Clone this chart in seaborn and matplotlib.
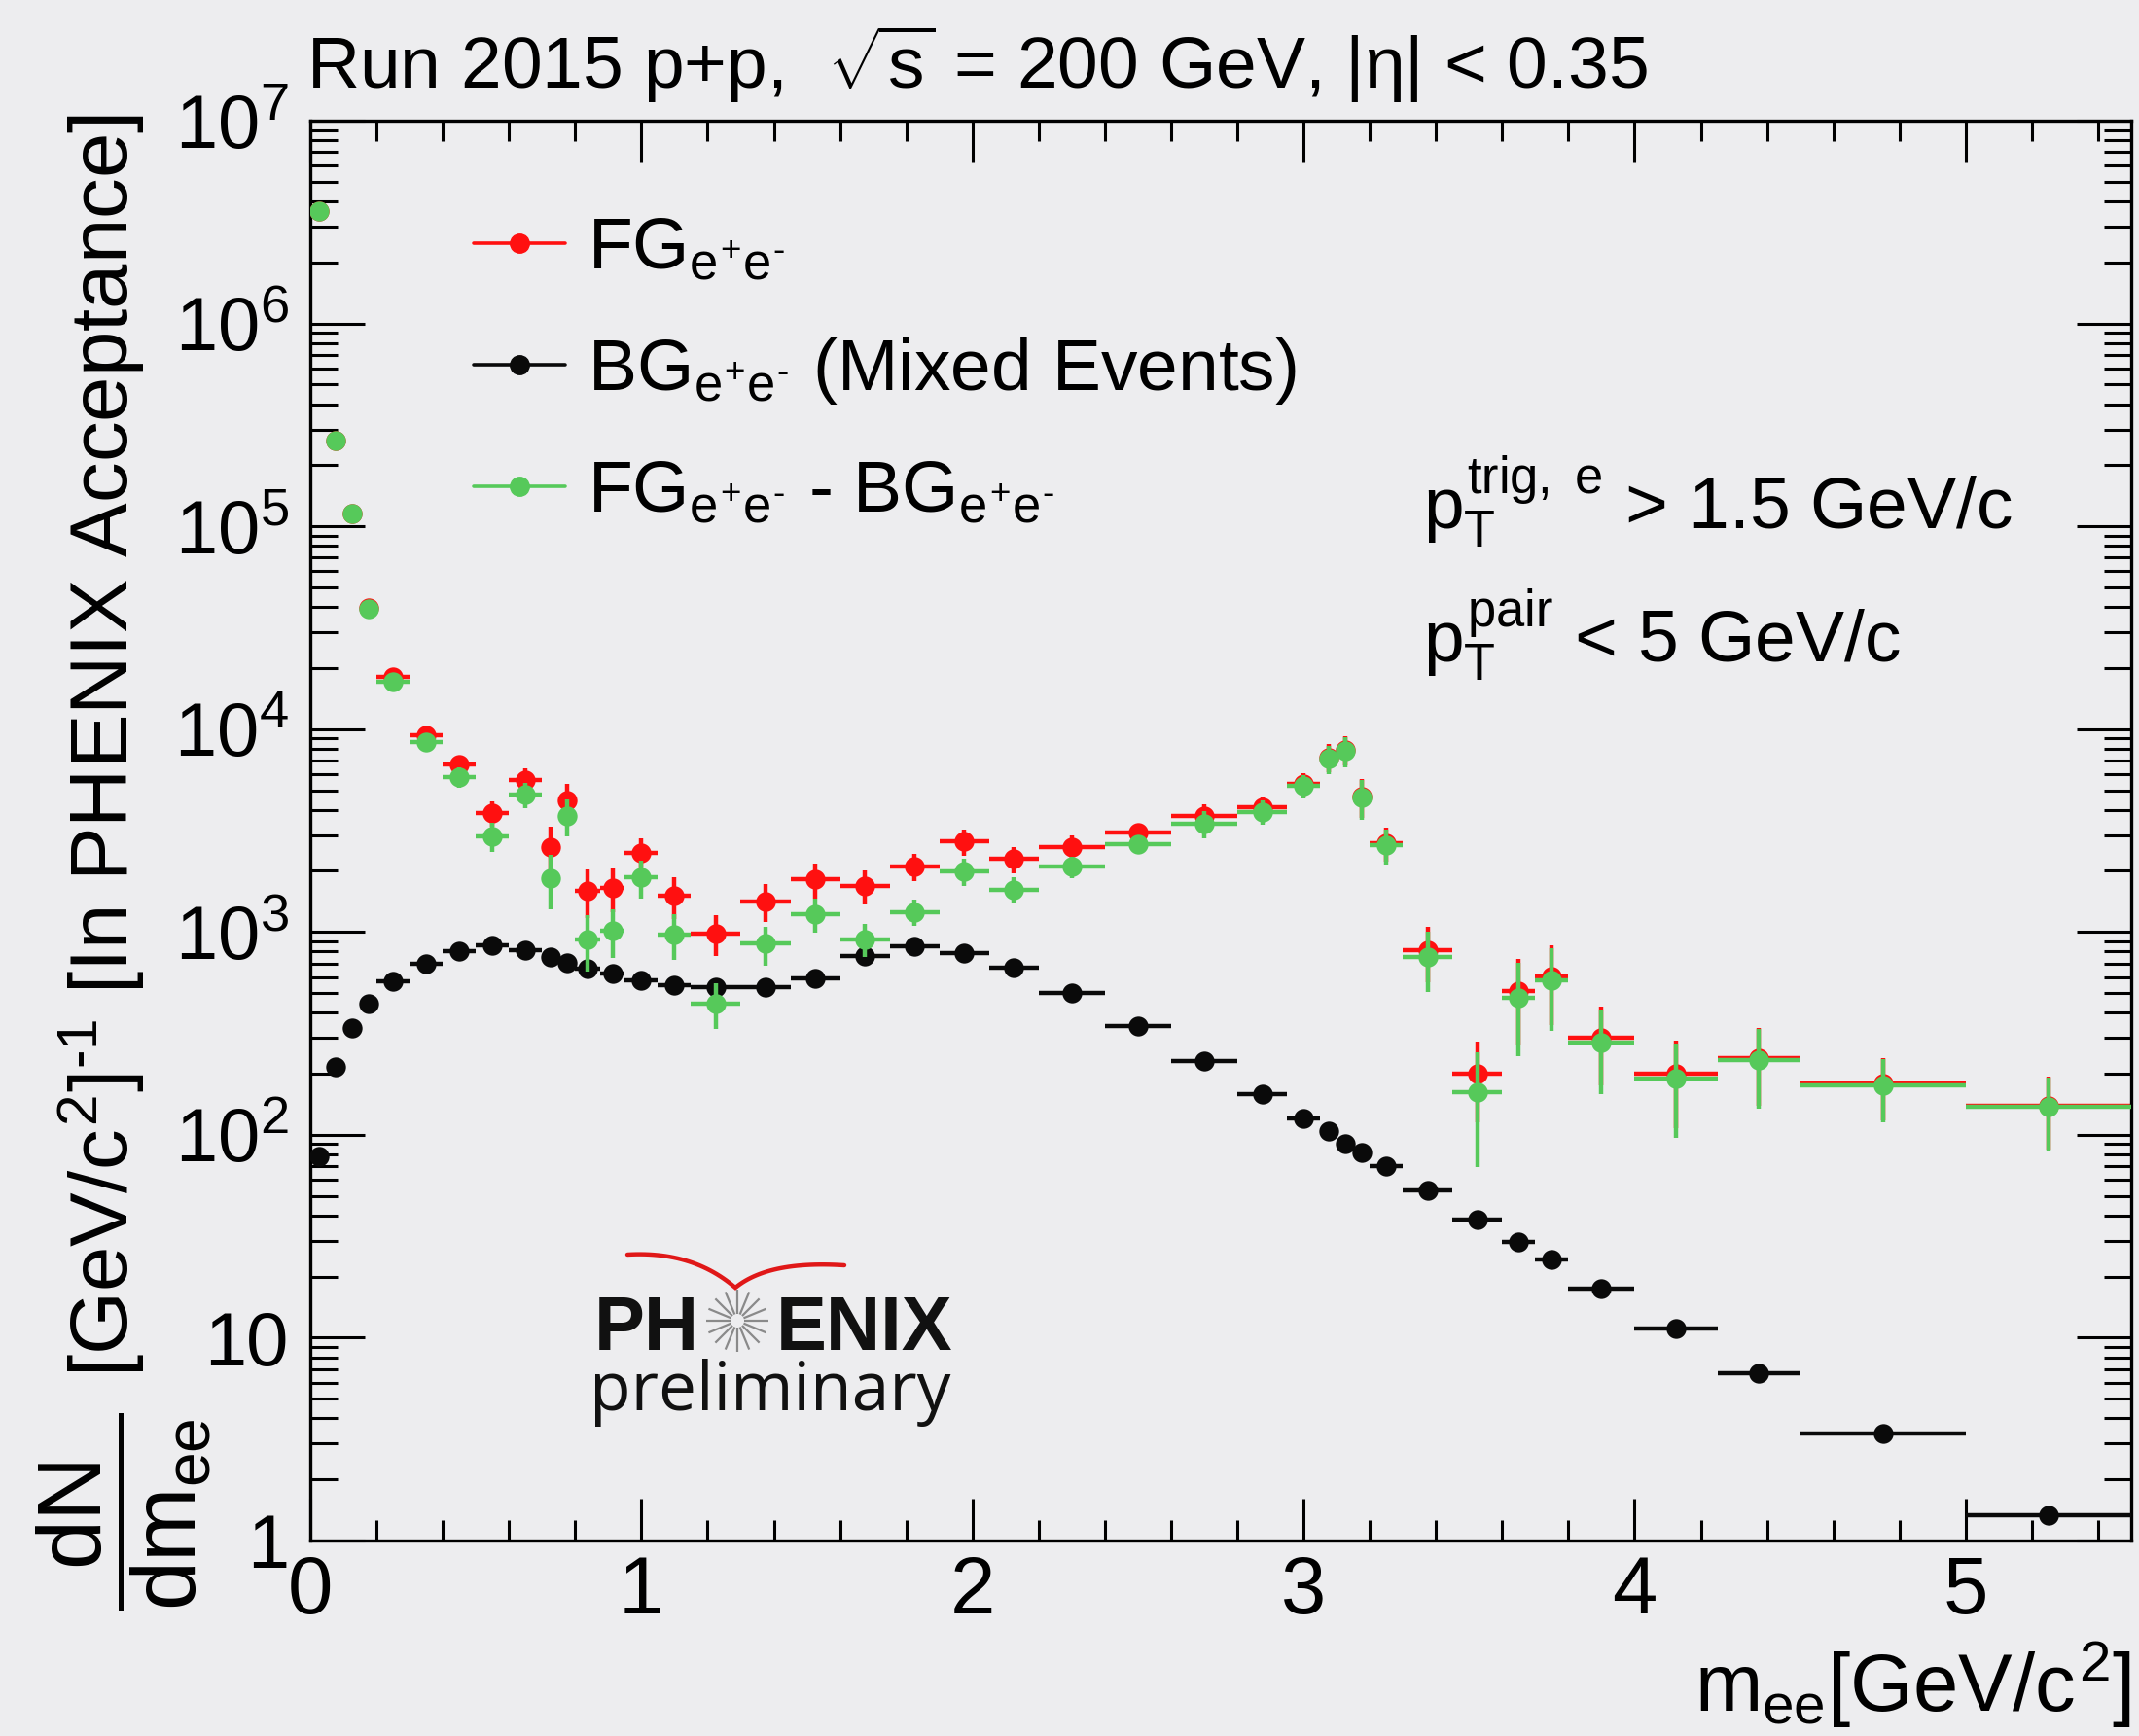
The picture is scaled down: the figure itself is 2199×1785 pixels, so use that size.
import numpy as np
import pandas as pd
import matplotlib
matplotlib.use("Agg")
import matplotlib.pyplot as plt
from matplotlib.lines import Line2D
from matplotlib.ticker import (FuncFormatter, LogLocator, NullFormatter, MultipleLocator,
                               FixedLocator)
import seaborn as sns

# ---------------- data ----------------
bin_edges = [0, 0.05, 0.1, 0.15, 0.2, 0.3, 0.4, 0.5, 0.6, 0.7, 0.75, 0.8, 0.875, 0.95,
             1.05, 1.15, 1.3, 1.45, 1.6, 1.75, 1.9, 2.05, 2.2, 2.4, 2.6, 2.8, 2.95, 3.05,
             3.1, 3.15, 3.2, 3.3, 3.45, 3.6, 3.7, 3.8, 4.0, 4.25, 4.5, 5.0, 5.5]

fg_yield = [3.57e6, 2.66e5, 1.16e5, 3.97e4, 1.81e4, 9340, 6670, 3850, 5630, 2630,
            4450, 1600, 1650, 2440, 1510, 985, 1420, 1815, 1690, 2100,
            2790, 2290, 2620, 3100, 3740, 4120, 5350, 7260, 7940, 4660,
            2735, 815, 201, 510, 602, 302, 200, 238, 179, 139]
fg_err = [1.8e4, 4e3, 2.5e3, 1.2e3, 700, 500, 700, 560, 750, 660,
          900, 425, 405, 450, 350, 220, 300, 350, 325, 318,
          410, 340, 385, 300, 525, 540, 700, 1150, 1300, 1020,
          525, 250, 86, 230, 254, 127, 92, 99, 61, 54]

bg_yield = [78, 217, 338, 444, 573, 695, 803, 855, 813, 754,
            707, 658, 623, 580, 549, 537, 537, 592, 763, 848,
            787, 665, 502, 345, 231, 158, 120, 104, 90, 82,
            70, 53.5, 38.4, 29.5, 24.3, 17.5, 11.1, 6.7, 3.37, 1.33]

sig_yield = [3.57e6, 2.65e5, 1.16e5, 3.93e4, 1.72e4, 8660, 5800, 2970, 4750, 1850,
             3735, 923, 1017, 1853, 975, 444, 874, 1225, 923, 1257,
             1991, 1618, 2100, 2711, 3415, 3918, 5230, 7150, 7800, 4580,
             2680, 757, 162, 474, 580, 285, 189, 234, 176, 137]
sig_err = [1.8e4, 4e3, 2.5e3, 1.2e3, 700, 600, 650, 490, 660, 560,
           775, 285, 275, 385, 250, 113, 190, 235, 172, 190,
           300, 243, 255, 296, 525, 540, 700, 1150, 1300, 1020,
           525, 250, 93, 230, 254, 127, 92, 99, 61, 54]

y_decades = [1, 10, 100, 1e3, 1e4, 1e5, 1e6, 1e7]

edges = np.array(bin_edges)
df = pd.DataFrame({
    "mee": 0.5 * (edges[:-1] + edges[1:]),
    "half": 0.5 * (edges[1:] - edges[:-1]),
    "fg": fg_yield, "fg_err": fg_err,
    "bg": bg_yield,
    "sig": sig_yield, "sig_err": sig_err,
})

RED = "#ff1010"
GREEN = "#56c95a"
BLACK = "#0a0a0a"
BGCOL = "#ededef"

# ---------------- style ----------------
sns.set_theme(style="ticks")
plt.rcParams["font.family"] = ["Liberation Sans", "DejaVu Sans"]
plt.rcParams.update({
    "mathtext.fontset": "custom",
    "mathtext.rm": "Liberation Sans",
    "mathtext.it": "Liberation Sans",
    "mathtext.bf": "Liberation Sans:bold",
    "mathtext.sf": "Liberation Sans",
    "axes.linewidth": 2.4,
    "axes.edgecolor": "black",
    "axes.labelcolor": "black",
    "xtick.color": "black",
    "ytick.color": "black",
    "text.color": "black",
})

W, H = 2199, 1785
fig = plt.figure(figsize=(W / 100, H / 100), dpi=100, facecolor=BGCOL)
ax = fig.add_axes([319 / W, 1 - 1584 / H, (2191 - 319) / W, (1584 - 124) / H])
ax.set_facecolor(BGCOL)

ax.set_yscale("log")
ax.set_xlim(0, 5.5)
ax.set_ylim(y_decades[0], y_decades[-1])

MS = 215  # marker area (pt^2)
ELW = 3.2

# FG
ax.errorbar(df["mee"], df["fg"], xerr=df["half"], yerr=df["fg_err"], fmt="none",
            ecolor=RED, elinewidth=ELW, capsize=0, zorder=2)
sns.scatterplot(data=df, x="mee", y="fg", color=RED, s=MS, linewidth=0, ax=ax,
                legend=False, zorder=3)
# BG (mixed events)
ax.errorbar(df["mee"], df["bg"], xerr=df["half"], fmt="none",
            ecolor=BLACK, elinewidth=ELW, capsize=0, zorder=4)
sns.scatterplot(data=df, x="mee", y="bg", color=BLACK, s=MS, linewidth=0, ax=ax,
                legend=False, zorder=5)
# FG - BG
ax.errorbar(df["mee"], df["sig"], xerr=df["half"], yerr=df["sig_err"], fmt="none",
            ecolor=GREEN, elinewidth=ELW, capsize=0, zorder=6)
sns.scatterplot(data=df, x="mee", y="sig", color=GREEN, s=MS, linewidth=0, ax=ax,
                legend=False, zorder=7)

# ---------------- axes / ticks ----------------
ax.xaxis.set_major_locator(MultipleLocator(1))
ax.xaxis.set_minor_locator(MultipleLocator(0.2))
ax.yaxis.set_major_locator(FixedLocator(y_decades))
ax.yaxis.set_minor_locator(LogLocator(base=10, subs=np.arange(2, 10), numticks=20))
ax.yaxis.set_minor_formatter(NullFormatter())


def ylab(v, pos):
    if v < 0.5 or v > 2e7:
        return ""
    if v < 5:
        return "1"
    if v < 50:
        return "10"
    return r"$10^{%d}$" % int(round(np.log10(v)))


ax.yaxis.set_major_formatter(FuncFormatter(ylab))

ax.tick_params(axis="x", which="major", direction="in", length=31, width=2.2,
               top=True, bottom=True, labelsize=60, pad=10)
ax.tick_params(axis="x", which="minor", direction="in", length=15, width=2.2,
               top=True, bottom=True)
ax.tick_params(axis="y", which="major", direction="in", length=40, width=2.2,
               left=True, right=True, labelsize=56, pad=16)
ax.tick_params(axis="y", which="minor", direction="in", length=20, width=2.2,
               left=True, right=True)
for s in ax.spines.values():
    s.set_linewidth(2.4)
    s.set_visible(True)

ax.set_xlabel(r"$m_{ee}$[GeV/$c^{2}$]", fontsize=60, loc="right")
ax.xaxis.set_label_coords(1.0, -0.07)

# y title: units part as the axis label, the dN/dm fraction below it
ax.set_ylabel(r"[GeV/$c^{2}$]$^{‐1}$ [In PHENIX Acceptance]", fontsize=60, loc="top")
ax.yaxis.set_label_coords(-0.0897, 1.005)
ax.text(-0.1025, 0.02, r"$\dfrac{dN}{dm_{ee}}$", transform=ax.transAxes,
        rotation=90, fontsize=66, ha="center", va="center")

# ---------------- text ----------------
fig.text(315 / W, 1 - 91 / H, r"Run 2015 p+p,  $\sqrt{s}$ = 200 GeV, |$\eta$| < 0.35",
         fontsize=54, va="baseline", ha="left")

ax.text(0.611, 0.713, r"$p_{T}^{trig,\ e}$ > 1.5 GeV/c", transform=ax.transAxes,
        fontsize=54, va="baseline", ha="left")
ax.text(0.611, 0.619, r"$p_{T}^{pair}$ < 5 GeV/c", transform=ax.transAxes,
        fontsize=54, va="baseline", ha="left")

# legend
handles = [
    Line2D([], [], color=RED, lw=2.6, marker="o", markersize=14),
    Line2D([], [], color=BLACK, lw=2.6, marker="o", markersize=14),
    Line2D([], [], color=GREEN, lw=2.6, marker="o", markersize=14),
]
labels = [r"FG$_{e^{+}e^{‐}}$",
          r"BG$_{e^{+}e^{‐}}$ (Mixed Events)",
          r"FG$_{e^{+}e^{‐}}$ - BG$_{e^{+}e^{‐}}$"]
ax.legend(handles, labels, loc="upper left", bbox_to_anchor=(0.0897, 0.933),
          frameon=False, fontsize=54, handlelength=1.26, handletextpad=0.3,
          labelspacing=0.72, borderpad=0, borderaxespad=0)

# ---------------- PHENIX logo ----------------
def axf(xf, yf):
    return (xf - 319) / 1872, (1584 - yf) / 1460


px, py = axf(611, 1388)
ax.text(px, py, "PH", transform=ax.transAxes, fontsize=56, fontweight="bold",
        va="baseline", ha="left", color="#111111")
px, py = axf(798, 1388)
ax.text(px, py, "ENIX", transform=ax.transAxes, fontsize=56, fontweight="bold",
        va="baseline", ha="left", color="#111111")
px, py = axf(606, 1450)
ax.text(px, py, "preliminary", transform=ax.transAxes, fontsize=50,
        family=["Open Sans", "DejaVu Sans"],
        va="baseline", ha="left", color="#111111")

# sunburst between "PH" and "ENIX"
cx, cy = 758, 1358
for ang in np.linspace(0, 2 * np.pi, 16, endpoint=False):
    x0, y0 = axf(cx + 7 * np.cos(ang), cy + 7 * np.sin(ang))
    x1, y1 = axf(cx + 32 * np.cos(ang), cy + 32 * np.sin(ang))
    ax.plot([x0, x1], [y0, y1], transform=ax.transAxes, color="#8a8a8a", lw=1.6,
            solid_capstyle="butt", zorder=8)


# red swoosh: two quadratic Bezier arcs meeting in a point
def bezier(p0, p1, p2, n=30):
    t = np.linspace(0, 1, n)[:, None]
    return (1 - t) ** 2 * np.array(p0) + 2 * (1 - t) * t * np.array(p1) + t ** 2 * np.array(p2)


left = bezier((645, 1290), (712, 1286), (756, 1324))
right = bezier((756, 1324), (790, 1296), (868, 1301))
curve = np.vstack([left, right])
cxy = np.array([axf(a, b) for a, b in curve])
ax.plot(cxy[:, 0], cxy[:, 1], transform=ax.transAxes, color="#e01818", lw=3.2,
        solid_joinstyle="miter", solid_capstyle="round", zorder=8)

fig.savefig("out.png", dpi=100, facecolor=BGCOL)
